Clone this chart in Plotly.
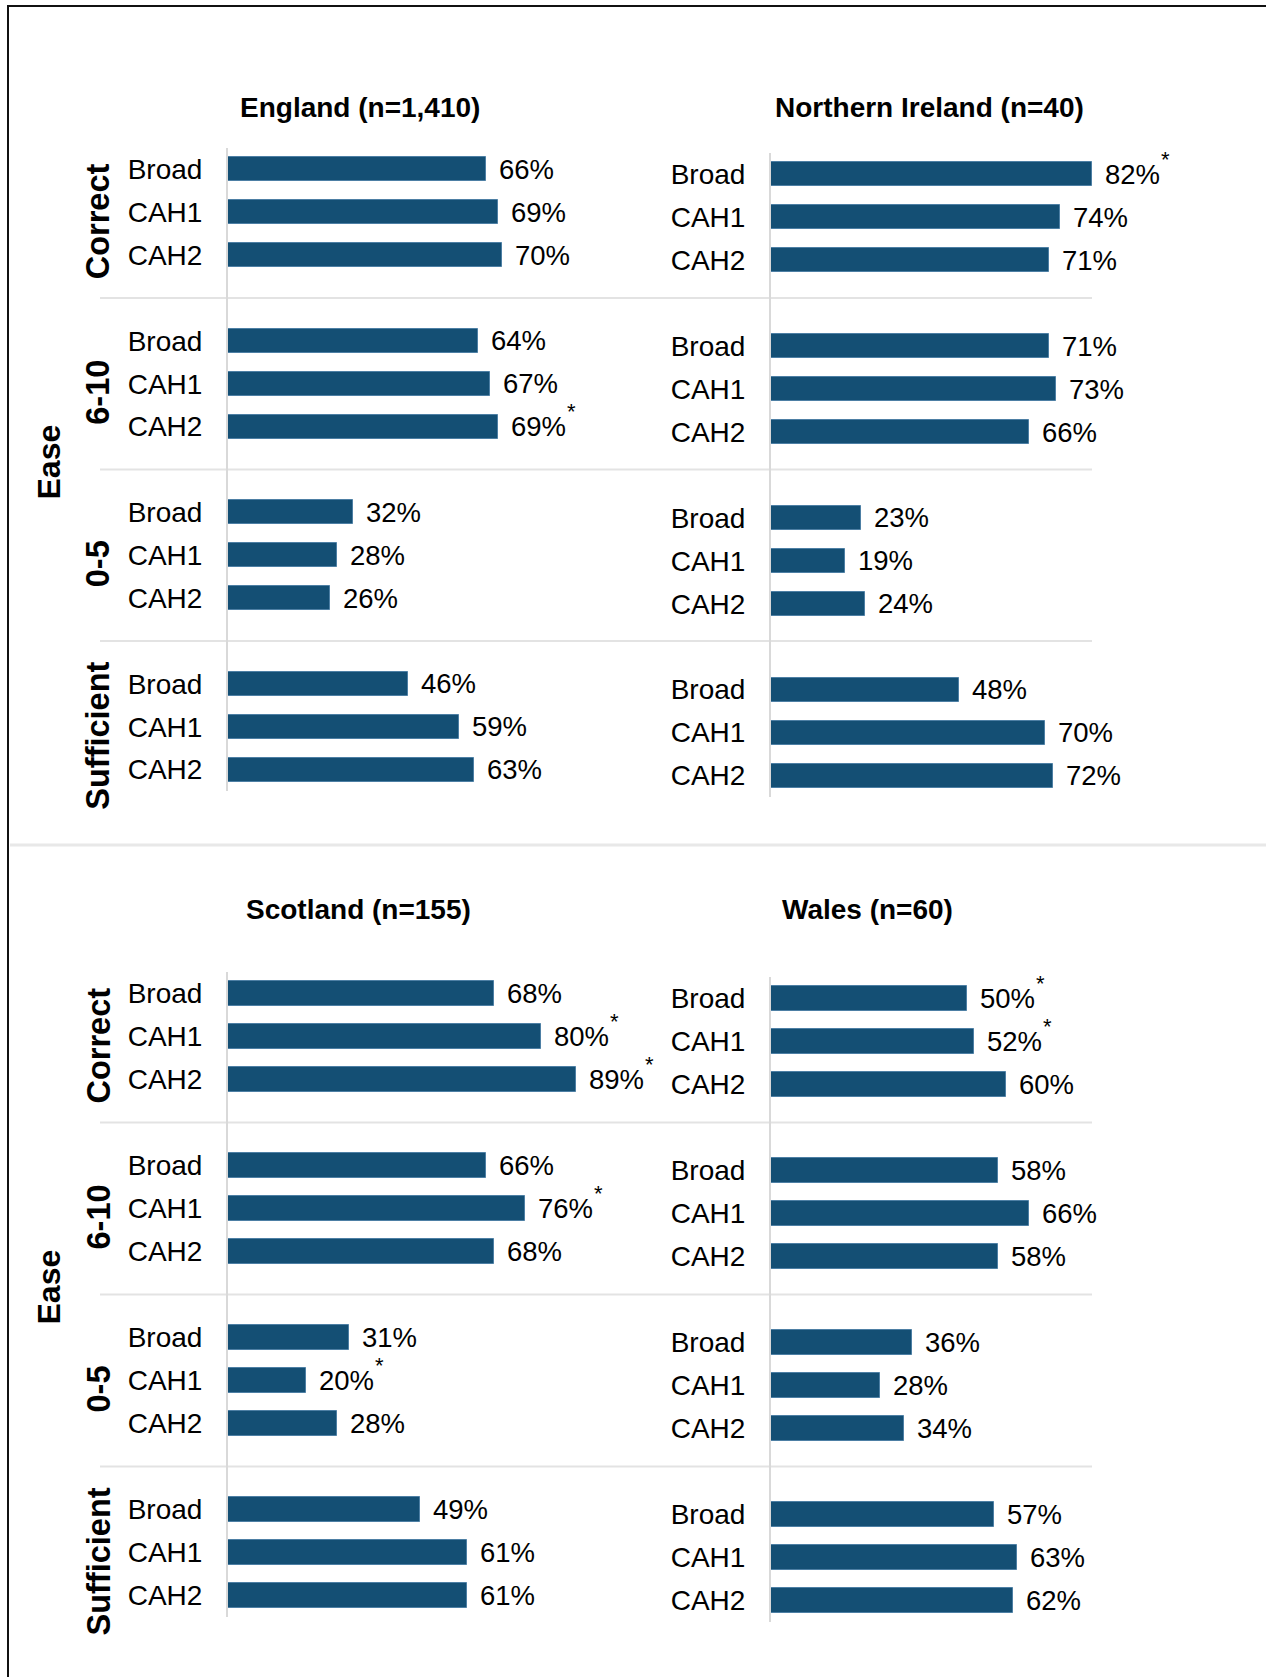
import plotly.graph_objects as go

# ---------------- data ----------------
groups = ["Correct", "6-10", "0-5", "Sufficient"]
items = ["Broad", "CAH1", "CAH2"]
outer_label = "Ease"

titles = ["England (n=1,410)", "Northern Ireland (n=40)", "Scotland (n=155)", "Wales (n=60)"]

england = [66, 69, 70, 64, 67, 69, 32, 28, 26, 46, 59, 63]
england_sig = ["", "", "", "", "", "*", "", "", "", "", "", ""]

northern_ireland = [82, 74, 71, 71, 73, 66, 23, 19, 24, 48, 70, 72]
northern_ireland_sig = ["*", "", "", "", "", "", "", "", "", "", "", ""]

scotland = [68, 80, 89, 66, 76, 68, 31, 20, 28, 49, 61, 61]
scotland_sig = ["", "*", "*", "", "*", "", "", "*", "", "", "", ""]

wales = [50, 52, 60, 58, 66, 58, 36, 28, 34, 57, 63, 62]
wales_sig = ["*", "*", "", "", "", "", "", "", "", "", "", ""]

# ---------------- geometry helpers ----------------
W, H = 1266, 1677


def px(x):
    return x / W


def py(y):
    return 1 - y / H


BAR = "#144F74"
FONT = "Arial, Liberation Sans, sans-serif"
VAL_SIZE = 27.5

# slot positions: one empty slot between groups
positions = [g * (len(items) + 1) + i for g in range(len(groups)) for i in range(len(items))]
ticktext = [it for _ in groups for it in items]
nslots = len(groups) * (len(items) + 1) - 1

# panel frames (axis x, top y, bottom y) in pixels
panels = [
    (england, england_sig, 228, 148, 791),
    (northern_ireland, northern_ireland_sig, 771, 153, 797),
    (scotland, scotland_sig, 228, 972, 1617),
    (wales, wales_sig, 771, 977, 1622),
]
title_pos = [(360, 107), (929, 107), (358, 910), (867, 910)]

fig = go.Figure()
layout_axes = {}
annotations = []
for k, (vals, sig, x0, yt, yb) in enumerate(panels):
    n = k + 1
    xa = "x" if n == 1 else f"x{n}"
    ya = "y" if n == 1 else f"y{n}"
    fig.add_trace(go.Bar(
        x=vals, y=positions, orientation="h",
        xaxis=xa, yaxis=ya,
        marker=dict(color=BAR, line=dict(color="#4d7fa4", width=1)),
        width=0.56,
        showlegend=False, hoverinfo="skip",
    ))
    for v, s, p in zip(vals, sig, positions):
        label = f"{v}%"
        annotations.append(dict(
            text=label, x=v, y=p, xref=xa, yref=ya,
            xanchor="left", yanchor="middle", xshift=11, showarrow=False,
            font=dict(family=FONT, size=VAL_SIZE, color="#000000"),
        ))
        if s:
            # approx. rendered width of the value label (Arial metrics)
            lw = VAL_SIZE * (0.556 * (len(label) - 1) + 0.889)
            annotations.append(dict(
                text=s, x=v, y=p, xref=xa, yref=ya,
                xanchor="left", yanchor="middle", xshift=12 + lw, yshift=15,
                showarrow=False,
                font=dict(family=FONT, size=22, color="#000000"),
            ))
    xkey = "xaxis" if n == 1 else f"xaxis{n}"
    ykey = "yaxis" if n == 1 else f"yaxis{n}"
    layout_axes[xkey] = dict(
        domain=[px(x0), px(x0 + 391)], range=[0, 100], anchor=ya,
        visible=False, showgrid=False, zeroline=False, fixedrange=True,
    )
    layout_axes[ykey] = dict(
        domain=[py(yb), py(yt)], range=[nslots - 0.5, -0.5], anchor=xa,
        tickvals=positions, ticktext=ticktext, ticks="",
        ticklabelstandoff=18,
        tickfont=dict(family=FONT, size=28, color="#000000"),
        showgrid=False, zeroline=False,
        showline=True, linecolor="#d9d9d9", linewidth=2, fixedrange=True,
    )

fig.update_layout(**layout_axes)

for (tx, ty), t in zip(title_pos, titles):
    annotations.append(dict(
        text=f"<b>{t}</b>", x=px(tx), y=py(ty), xref="paper", yref="paper",
        xanchor="center", yanchor="middle", showarrow=False,
        font=dict(family=FONT, size=28, color="#000000"),
    ))

shapes = []
for ya in ["y", "y3"]:
    # group labels
    for g, name in enumerate(groups):
        annotations.append(dict(
            text=f"<b>{name}</b>", x=px(98), y=g * (len(items) + 1) + 1,
            xref="paper", yref=ya, xanchor="center", yanchor="middle",
            textangle=-90, showarrow=False, yshift=-9,
            font=dict(family=FONT, size=32.5, color="#000000"),
        ))
    annotations.append(dict(
        text=f"<b>{outer_label}</b>", x=px(48), y=(nslots - 1) / 2,
        xref="paper", yref=ya, xanchor="center", yanchor="middle",
        textangle=-90, showarrow=False, yshift=7,
        font=dict(family=FONT, size=32, color="#000000"),
    ))
    # separators between groups
    for g in range(1, len(groups)):
        yy = g * (len(items) + 1) - 1
        shapes.append(dict(
            type="line", xref="paper", yref=ya, x0=px(100), x1=px(1092), y0=yy, y1=yy,
            line=dict(color="#e3e3e3", width=2), layer="below",
        ))

# divider between top and bottom halves
shapes.append(dict(type="line", xref="paper", yref="paper", x0=px(10), x1=1.0,
                   y0=py(845), y1=py(845), line=dict(color="#e8e8e8", width=3)))
# outer frame (right and bottom edges fall outside the picture)
shapes.append(dict(type="rect", xref="paper", yref="paper", x0=px(8), y0=py(1700),
                   x1=px(1285), y1=py(6), line=dict(color="#111111", width=2)))

fig.update_layout(
    width=W, height=H,
    margin=dict(l=0, r=0, t=0, b=0),
    paper_bgcolor="white", plot_bgcolor="white",
    annotations=annotations, shapes=shapes,
    bargap=0, showlegend=False,
)

fig.write_html("out.html", config={"displayModeBar": False},
               post_script="document.body.style.margin='0px';")
